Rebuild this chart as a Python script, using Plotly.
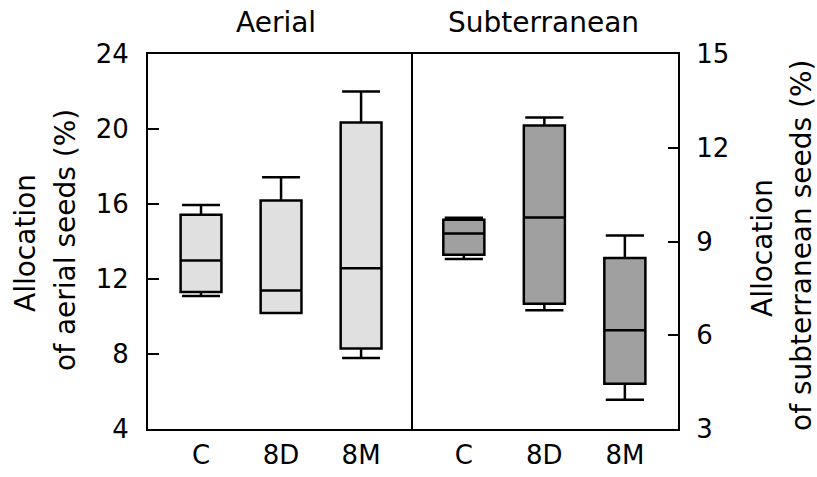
import plotly.graph_objects as go

# ---- data ----
categories = ["C", "8D", "8M"]

aerial_lower = [11.09, 10.19, 7.79]
aerial_q1 = [11.31, 10.19, 8.30]
aerial_median = [12.99, 11.38, 12.57]
aerial_q3 = [15.43, 16.19, 20.35]
aerial_upper = [15.95, 17.42, 22.00]

subt_lower = [8.44, 6.80, 3.94]
subt_q1 = [8.58, 7.01, 4.45]
subt_median = [9.26, 9.77, 6.16]
subt_q3 = [9.70, 12.71, 8.47]
subt_upper = [9.76, 12.97, 9.19]

left_ticks = [4, 8, 12, 16, 20, 24]
right_ticks = [3, 6, 9, 12, 15]

FONT = "DejaVu Sans"
W, H = 817, 477
L, R, T, B = 148, 139, 54, 48
split = (410.7 - L) / (W - L - R)

fig = go.Figure()
fig.add_trace(go.Box(
    x=categories, q1=aerial_q1, median=aerial_median, q3=aerial_q3,
    lowerfence=aerial_lower, upperfence=aerial_upper,
    xaxis="x", yaxis="y", fillcolor="#e0e0e0",
    line=dict(color="black", width=2.5), width=0.51, whiskerwidth=0.93,
    boxpoints=False, showlegend=False, hoverinfo="skip"))
fig.add_trace(go.Box(
    x=categories, q1=subt_q1, median=subt_median, q3=subt_q3,
    lowerfence=subt_lower, upperfence=subt_upper,
    xaxis="x2", yaxis="y2", fillcolor="#a0a0a0",
    line=dict(color="black", width=2.5), width=0.51, whiskerwidth=0.93,
    boxpoints=False, showlegend=False, hoverinfo="skip"))

axis_common = dict(showgrid=False, zeroline=False, showline=True,
                   linecolor="black", linewidth=2, automargin=False,
                   tickfont=dict(family=FONT, size=26, color="black"))

fig.update_layout(
    width=W, height=H,
    margin=dict(l=L, r=R, t=T, b=B, pad=0, autoexpand=False),
    paper_bgcolor="white", plot_bgcolor="white",
    font=dict(family=FONT, color="black"),
    xaxis=dict(domain=[0, split], anchor="y", type="category", mirror=True,
               range=[-0.6625, 2.62], ticks="", ticklabelstandoff=2,
               **axis_common),
    yaxis=dict(anchor="x", range=[4, 24], tickvals=left_ticks, mirror=True,
               ticks="inside", ticklen=11, tickwidth=2, tickcolor="black",
               ticklabelstandoff=12, **axis_common),
    xaxis2=dict(domain=[split, 1], anchor="y2", type="category", mirror=True,
                range=[-0.66, 2.66], ticks="", ticklabelstandoff=2,
                **axis_common),
    yaxis2=dict(anchor="x2", side="right", range=[3, 15], tickvals=right_ticks,
                mirror=False,
                ticks="inside", ticklen=10, tickwidth=2, tickcolor="black",
                ticklabelstandoff=11, **axis_common),
)

pw = W - L - R
ph = H - T - B


def px(x):
    return (x - L) / pw


def py(y):
    return (H - B - y) / ph


tfont = dict(family=FONT, size=28, color="black")
anns = [
    dict(text="Aerial", x=px(276), y=py(22), xanchor="center", yanchor="middle"),
    dict(text="Subterranean", x=px(543.7), y=py(22), xanchor="center", yanchor="middle"),
    dict(text="Allocation", x=px(25), y=py(243), textangle=-90, xanchor="center", yanchor="middle"),
    dict(text="of aerial seeds (%)", x=px(65), y=py(240), textangle=-90, xanchor="center", yanchor="middle"),
    dict(text="Allocation", x=px(762), y=py(248), textangle=-90, xanchor="center", yanchor="middle"),
    dict(text="of subterranean seeds (%)", x=px(801), y=py(246), textangle=-90, xanchor="center", yanchor="middle"),
]
for a in anns:
    fig.add_annotation(xref="paper", yref="paper", showarrow=False, font=tfont, **a)

fig.write_html("out.html")
